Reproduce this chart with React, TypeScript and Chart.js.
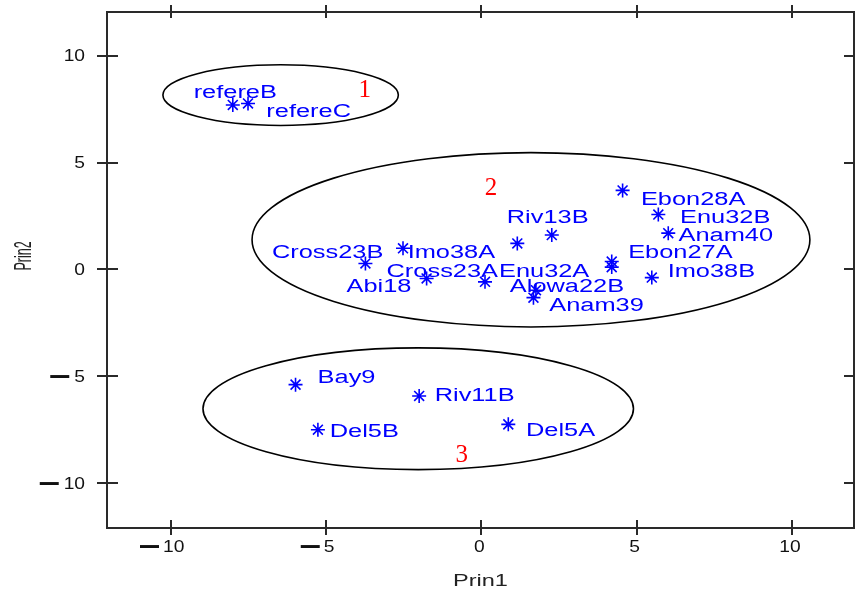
import React, { useEffect, useRef } from 'react';
import { Chart, registerables } from 'chart.js';
Chart.register(...registerables);

// Points (Prin1, Prin2) with their label anchors (left edge, middle), in data units
const names = ['refereB', 'refereC', 'Cross23B', 'Imo38A', 'Cross23A', 'Enu32A', 'Abi18', 'Riv13B', 'Ebon28A', 'Enu32B', 'Anam40', 'Ebon27A', '', 'Imo38B', 'Alowa22B', 'Anam39', 'Bay9', 'Riv11B', 'Del5B', 'Del5A'];
const prin1 = [-8.0, -7.51, -3.73, -2.52, -1.76, 0.12, 1.16, 2.27, 4.55, 5.7, 6.02, 4.2, 4.2, 5.49, 1.76, 1.68, -5.98, -2.0, -5.26, 0.87];
const prin2 = [7.7, 7.77, 0.28, 0.99, -0.42, -0.58, 1.22, 1.61, 3.7, 2.57, 1.7, 0.37, 0.11, -0.38, -0.97, -1.32, -5.39, -5.92, -7.5, -7.25];
const labelX = [-9.26, -6.92, -6.74, -2.37, -3.05, 0.57, -4.34, 0.82, 5.14, 6.4, 6.35, 4.73, 0, 6.0, 0.92, 2.19, -5.27, -1.5, -4.88, 1.44];
const labelY = [8.28, 7.39, 0.75, 0.75, -0.11, -0.11, -0.84, 2.42, 3.25, 2.42, 1.56, 0.78, 0, -0.11, -0.84, -1.72, -5.06, -5.94, -7.61, -7.58];

const xTicks = [-10, -5, 0, 5, 10];
const yTicks = [-10, -5, 0, 5, 10];
const xTitle = 'Prin1';
const yTitle = 'Prin2';

// Cluster ellipses and numbers
const clusterNames = ['1', '2', '3'];
const clusterX = [-3.75, 0.31, -0.63];
const clusterY = [8.36, 3.81, -8.72];
const ellipseCX = [-6.46, 1.6, -2.03];
const ellipseCY = [8.16, 1.39, -6.52];
const ellipseRX = [3.79, 8.98, 6.93];
const ellipseRY = [1.42, 4.08, 2.85];

function stretchText(ctx: CanvasRenderingContext2D, text: string, x: number, y: number, sx: number, sy: number, align: CanvasTextAlign) {
  ctx.save();
  ctx.translate(x, y);
  ctx.scale(sx, sy);
  ctx.textAlign = align;
  ctx.textBaseline = 'middle';
  ctx.fillText(text, 0, 0);
  ctx.restore();
}

function drawMinus(ctx: CanvasRenderingContext2D, rightX: number, y: number) {
  ctx.save();
  ctx.font = 'bold 16px "Liberation Sans"';
  const w = ctx.measureText('\u2014').width;
  ctx.translate(rightX, y - 1);
  ctx.scale(19 / w, 1.9);
  ctx.textAlign = 'right';
  ctx.textBaseline = 'middle';
  ctx.fillText('\u2014', 0, 0);
  ctx.restore();
}

const decor = {
  id: 'decor',
  beforeDatasetsDraw(chart: any) {
    const ctx: CanvasRenderingContext2D = chart.ctx;
    const xs = chart.scales.x;
    const ys = chart.scales.y;
    ctx.save();
    ctx.strokeStyle = '#000';
    ctx.lineWidth = 1.6;
    for (let i = 0; i < ellipseCX.length; i++) {
      const cx = xs.getPixelForValue(ellipseCX[i]);
      const cy = ys.getPixelForValue(ellipseCY[i]);
      const rx = Math.abs(xs.getPixelForValue(ellipseCX[i] + ellipseRX[i]) - cx);
      const ry = Math.abs(ys.getPixelForValue(ellipseCY[i] + ellipseRY[i]) - cy);
      ctx.beginPath();
      ctx.ellipse(cx, cy, rx, ry, 0, 0, Math.PI * 2);
      ctx.stroke();
    }
    ctx.restore();
  },
  afterDraw(chart: any) {
    const ctx: CanvasRenderingContext2D = chart.ctx;
    const xs = chart.scales.x;
    const ys = chart.scales.y;
    const a = chart.chartArea;
    ctx.save();
    // frame
    ctx.strokeStyle = '#2a2a2a';
    ctx.lineWidth = 2;
    ctx.strokeRect(a.left, a.top, a.right - a.left, a.bottom - a.top);
    // ticks
    ctx.beginPath();
    for (const v of xTicks) {
      const px = Math.round(xs.getPixelForValue(v));
      ctx.moveTo(px, a.bottom - 8);
      ctx.lineTo(px, a.bottom + 7);
      ctx.moveTo(px, a.top - 7);
      ctx.lineTo(px, a.top + 6);
    }
    for (const v of yTicks) {
      const py = Math.round(ys.getPixelForValue(v));
      ctx.moveTo(a.left - 10, py);
      ctx.lineTo(a.left + 11, py);
      ctx.moveTo(a.right - 10, py);
      ctx.lineTo(a.right + 10, py);
    }
    ctx.stroke();

    // tick labels
    ctx.fillStyle = '#111';
    ctx.font = '16px "Liberation Sans"';
    for (const v of xTicks) {
      const px = xs.getPixelForValue(v);
      const digits = String(Math.abs(v));
      const cx = v < 0 ? px + 3 : px - 2;
      const y = a.bottom + 20;
      stretchText(ctx, digits, cx, y, 1.2, 1, 'center');
      if (v < 0) {
        const w = ctx.measureText(digits).width * 1.2;
        drawMinus(ctx, cx - w / 2 - 4, y);
        ctx.font = '16px "Liberation Sans"';
      }
    }
    for (const v of yTicks) {
      const py = ys.getPixelForValue(v) + 1;
      const digits = String(Math.abs(v));
      const rx = 85;
      stretchText(ctx, digits, rx, py, 1.2, 1, 'right');
      if (v < 0) {
        const w = ctx.measureText(digits).width * 1.2;
        drawMinus(ctx, rx - w - 5, py);
        ctx.font = '16px "Liberation Sans"';
      }
    }
    // axis titles
    ctx.fillStyle = '#222';
    ctx.font = '16px "Liberation Sans"';
    stretchText(ctx, xTitle, (a.left + a.right) / 2, 582, 1.47, 1, 'center');
    ctx.save();
    ctx.translate(24, 256);
    ctx.rotate(-Math.PI / 2);
    ctx.scale(0.78, 1.5);
    ctx.textAlign = 'center';
    ctx.textBaseline = 'middle';
    ctx.fillText(yTitle, 0, 0);
    ctx.restore();

    // point labels
    ctx.fillStyle = '#0000ff';
    ctx.font = '18px "Liberation Sans"';
    for (let i = 0; i < names.length; i++) {
      if (!names[i]) continue;
      stretchText(ctx, names[i], xs.getPixelForValue(labelX[i]), ys.getPixelForValue(labelY[i]), 1.41, 1, 'left');
    }
    // cluster numbers
    ctx.fillStyle = '#ff0000';
    ctx.font = '25px "Liberation Serif"';
    for (let i = 0; i < clusterNames.length; i++) {
      stretchText(ctx, clusterNames[i], xs.getPixelForValue(clusterX[i]), ys.getPixelForValue(clusterY[i]), 1, 1, 'center');
    }
    ctx.restore();
  },
};

export default function App() {
  const ref = useRef<HTMLCanvasElement | null>(null);
  useEffect(() => {
    if (!ref.current) return;
    const chart = new Chart(ref.current, {
      type: 'scatter',
      data: {
        datasets: [
          {
            label: 'Prin2 vs Prin1',
            data: prin1.map((x, i) => ({ x, y: prin2[i] })),
            pointStyle: 'star',
            pointRadius: 7,
            pointBorderWidth: 1.6,
            borderColor: '#0000ff',
            backgroundColor: '#0000ff',
          },
        ],
      },
      options: {
        responsive: false,
        animation: false,
        layout: { autoPadding: false, padding: { left: 107, right: 1, top: 12, bottom: 66 } },
        plugins: { legend: { display: false }, tooltip: { enabled: false } },
        scales: {
          x: { type: 'linear', min: -12.05, max: 12.0, display: false },
          y: { type: 'linear', min: -12.1, max: 12.05, display: false },
        },
      },
      plugins: [decor],
    });
    return () => chart.destroy();
  }, []);
  return (
    <div style={{ position: 'absolute', left: 0, top: 0, width: 855, height: 594, overflow: 'hidden', background: '#fff' }}>
      <canvas ref={ref} width={855} height={594} style={{ display: 'block' }} />
    </div>
  );
}
